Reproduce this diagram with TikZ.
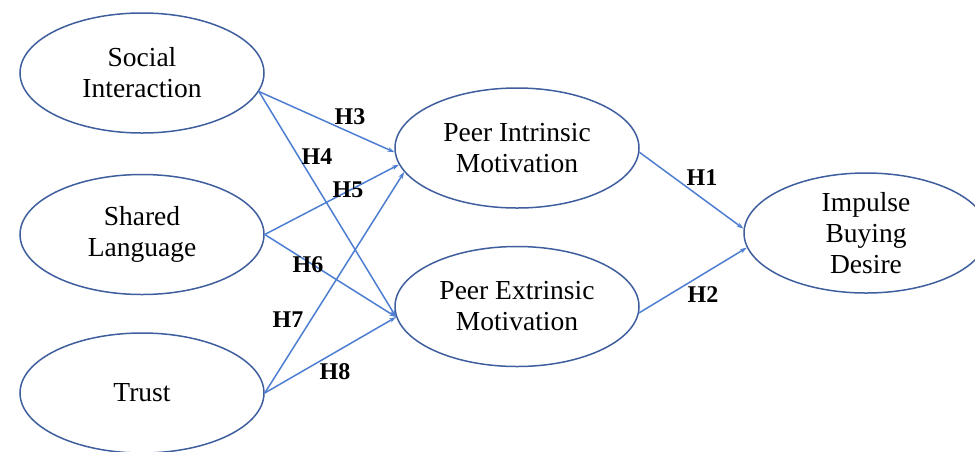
\documentclass[tikz,border=0pt]{standalone}
\usepackage{fontspec}
\setmainfont{Liberation Serif}
\usepackage{tikz}
\usetikzlibrary{ positioning, arrows.meta, shapes.geometric }
\usepackage{xcolor}
\definecolor{rim}{HTML}{3F5E9E}
\definecolor{link}{HTML}{4D7ED2}

\begin{document}
\begin{tikzpicture}[
  x=1pt, y=-1pt,
  latent/.style={draw=rim, ellipse, line width=1.5pt, minimum width=244pt,
                 minimum height=120pt, inner sep=0pt, align=center,
                 font=\fontsize{27.5}{31}\selectfont},
  hyp/.style={font=\fontsize{24}{26}\selectfont\bfseries, inner sep=0pt},
  ar/.style={-{Stealth[length=7pt,width=4.5pt]}, line width=1.5pt, link},
]
  \useasboundingbox (0,0) rectangle (975,451);

  % constructs
  \node[latent] (si) at (142,73) {Social\\Interaction};
  \node[latent, below=40pt of si] (sl) {Shared\\Language};
  \node[latent, below=37pt of sl] (tr) {Trust};
  \node[latent] (pim) at (517,148) {Peer Intrinsic\\Motivation};
  \node[latent, below=37pt of pim] (pem) {Peer Extrinsic\\Motivation};
  \node[latent, inner ysep=-3pt] (ibd) at (866,233) {Impulse\\Buying\\Desire};

  % paths
  \draw[ar] (si.-9) -- (pim.182);
  \draw[ar] (si.-9) -- (pem.185);
  \draw[ar] (sl.east) -- (pim.188);
  \draw[ar] (sl.east) -- (pem.185);
  \draw[ar] (tr.east) -- (pim.192);
  \draw[ar] (tr.east) -- (pem.185);
  \draw[ar] (pim.-2) -- (ibd.178);
  \draw[ar] (pem.-3) -- (ibd.187);

  % hypotheses
  \node[hyp] (h1) at (702,178) {H1};
  \node[hyp] (h2) at (703,295) {H2};
  \node[hyp] (h3) at (350,117) {H3};
  \node[hyp] (h4) at (317,157) {H4};
  \node[hyp] (h5) at (348,190) {H5};
  \node[hyp] (h6) at (308,265) {H6};
  \node[hyp] (h7) at (288,320) {H7};
  \node[hyp] (h8) at (335,372) {H8};
\end{tikzpicture}
\end{document}
